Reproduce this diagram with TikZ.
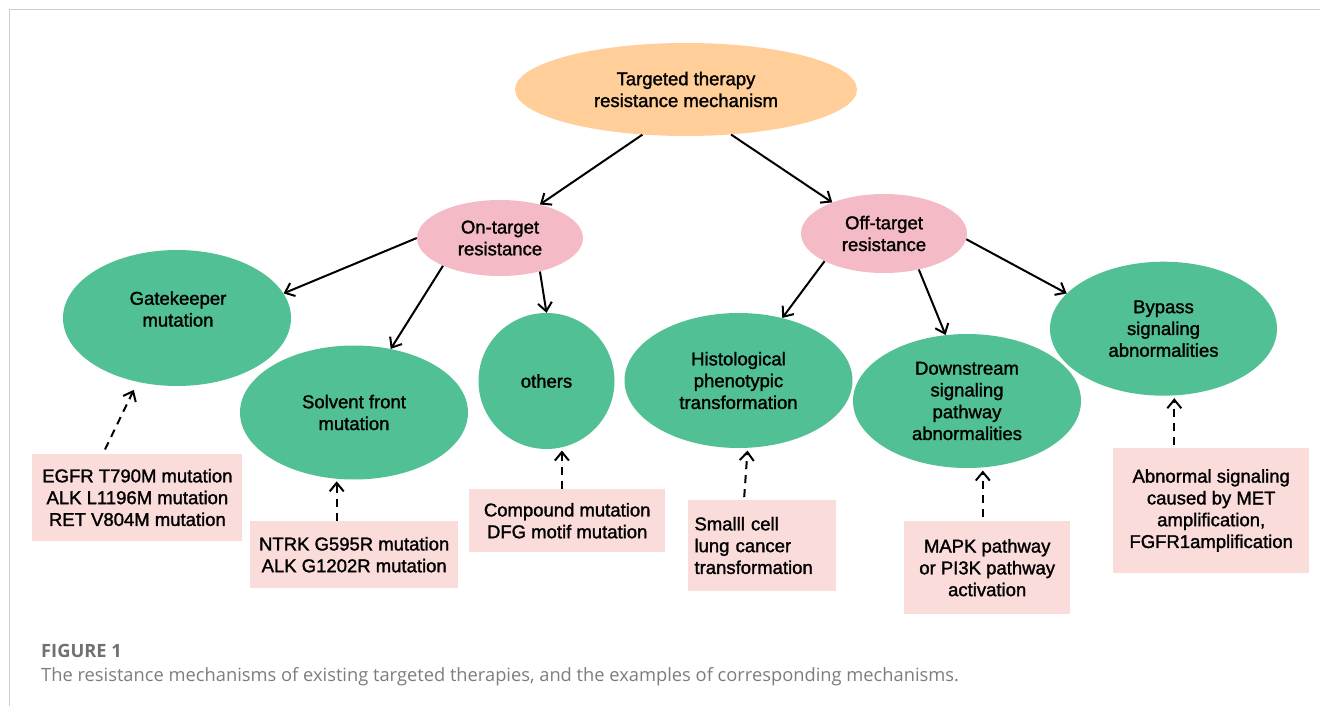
\documentclass[tikz,border=0pt]{standalone}
\usepackage{fontspec}
\setmainfont{Liberation Sans}
\newfontfamily\diagfont{Liberation Sans}[FakeBold=1.5]
\newfontfamily\capfont{Open Sans}
\usetikzlibrary{shapes.geometric,arrows.meta}
\definecolor{topfill}{RGB}{255,206,153}
\definecolor{pinkfill}{RGB}{244,187,198}
\definecolor{greenfill}{RGB}{82,192,149}
\definecolor{boxfill}{RGB}{250,220,218}
\definecolor{framegray}{RGB}{205,205,205}
\definecolor{capgray}{RGB}{112,112,112}
\definecolor{captext}{RGB}{125,125,125}
\begin{document}
\begin{tikzpicture}[x=1pt,y=-1pt,
  every node/.style={font=\diagfont\fontsize{18.5}{21.8}\selectfont, text=black, inner sep=0pt},
  ell/.style={ellipse, align=center},
  topell/.style={ell, fill=topfill, minimum width=342pt, minimum height=93pt},
  midell/.style={ell, fill=pinkfill, minimum width=166pt, minimum height=77pt},
  leafell/.style={ell, fill=greenfill, minimum width=228pt, minimum height=135pt},
  exbox/.style={rectangle, fill=boxfill, align=center},
  solidarrow/.style={draw=black, line width=2pt, -{Straight Barb[length=8.5pt,width=14pt]}},
  dasharrow/.style={solidarrow, dash pattern=on 8pt off 6pt},
]
\useasboundingbox (0,0) rectangle (1320,706);
\fill[white] (0,0) rectangle (1320,706);
\draw[framegray, line width=1.5pt] (9.3,706) -- (9.3,9.5) -- (1320,9.5);

% ellipses
\node[topell] (top) at (686,89.5) {Targeted therapy\\resistance mechanism};
\node[midell, minimum height=76pt] (on) at (500,238) {On-target\\resistance};
\node[midell, minimum height=79pt] (off) at (884,233.5) {Off-target\\resistance};
\node[leafell, minimum height=136pt] (gate) at (177,318) {};
\node (gatetext) at (178,309) [align=center] {Gatekeeper\\mutation};
\node[leafell, minimum height=134pt] (solvent) at (354,412.5) {Solvent front\\mutation};
\node[leafell, minimum width=136pt, minimum height=136pt] (others) at (546.5,381) {others};
\node[leafell] (hist) at (738.5,380.5) {Histological\\phenotypic\\transformation};
\node[leafell, minimum height=134pt] (down) at (967,401) {Downstream\\signaling\\pathway\\abnormalities};
\node[leafell, minimum width=227pt, minimum height=134pt] (bypass) at (1163.5,328.7) {Bypass\\signaling\\abnormalities};

% example boxes
\node[exbox, minimum width=210pt, minimum height=87.6pt] (egfr) at (137.4,497.5) {EGFR T790M mutation\\ALK L1196M mutation\\RET V804M mutation};
\node[exbox, minimum width=207.6pt, minimum height=66.7pt] (ntrk) at (354.2,554.7) {NTRK G595R mutation\\ALK G1202R mutation};
\node[exbox, minimum width=195.7pt, minimum height=63.3pt] (comp) at (567.2,520.7) {Compound mutation\\DFG motif mutation};
\node[exbox, minimum width=148pt, minimum height=90.4pt, text width=134pt, align=left] (small) at (761.5,545.5) {Smalll cell\\lung cancer\\transformation};
\node[exbox, minimum width=166.4pt, minimum height=92.7pt] (mapk) at (987.2,567.7) {MAPK pathway\\or PI3K pathway\\activation};
\node[exbox, minimum width=196.5pt, minimum height=125pt] (abn) at (1211.2,510.5) {Abnormal signaling\\caused by MET\\amplification,\\FGFR1amplification};

% solid arrows
\draw[solidarrow] (top.226) -- (on.40);
\draw[solidarrow] (top.315) -- (off.149);
\draw[solidarrow] (on.180) -- (gate.13);
\draw[solidarrow] (on.206) -- (solvent.60);
\draw[solidarrow] (on.320) -- (others.90);
\draw[solidarrow] (off.205) -- (hist.55);
\draw[solidarrow] (off.314) -- (down.108);
\draw[solidarrow] (off.356) -- (bypass.160);

% dashed arrows
\draw[dasharrow] ([shift={(-32.4,-4)}]egfr.north) -- ([shift={(-43.2,3.7)}]gate.south);
\draw[dasharrow] ([shift={(-17.5,0)}]ntrk.north) -- ([shift={(-17.3,1.6)}]solvent.south);
\draw[dasharrow] ([shift={(-5.3,0)}]comp.north) -- ([shift={(15.4,1.3)}]others.south);
\draw[dasharrow] ([shift={(-17.3,-3)}]small.north) -- ([shift={(9,2.3)}]hist.south);
\draw[dasharrow] ([shift={(-4.4,-4)}]mapk.north) -- ([shift={(15.8,2.3)}]down.south);
\draw[dasharrow] ([shift={(-36.9,-3.3)}]abn.north) -- ([shift={(10.8,2.3)}]bypass.south);

% caption
\node[anchor=base west, font=\capfont\bfseries\fontsize{18.3}{22}\selectfont, text=capgray] (figlabel) at (41,657.5) {FIGURE 1};
\node[anchor=base west, font=\capfont\fontsize{18.3}{22}\selectfont, text=captext] (caption) at (41,681.5) {The resistance mechanisms of existing targeted therapies, and the examples of corresponding mechanisms.};
\end{tikzpicture}
\end{document}
